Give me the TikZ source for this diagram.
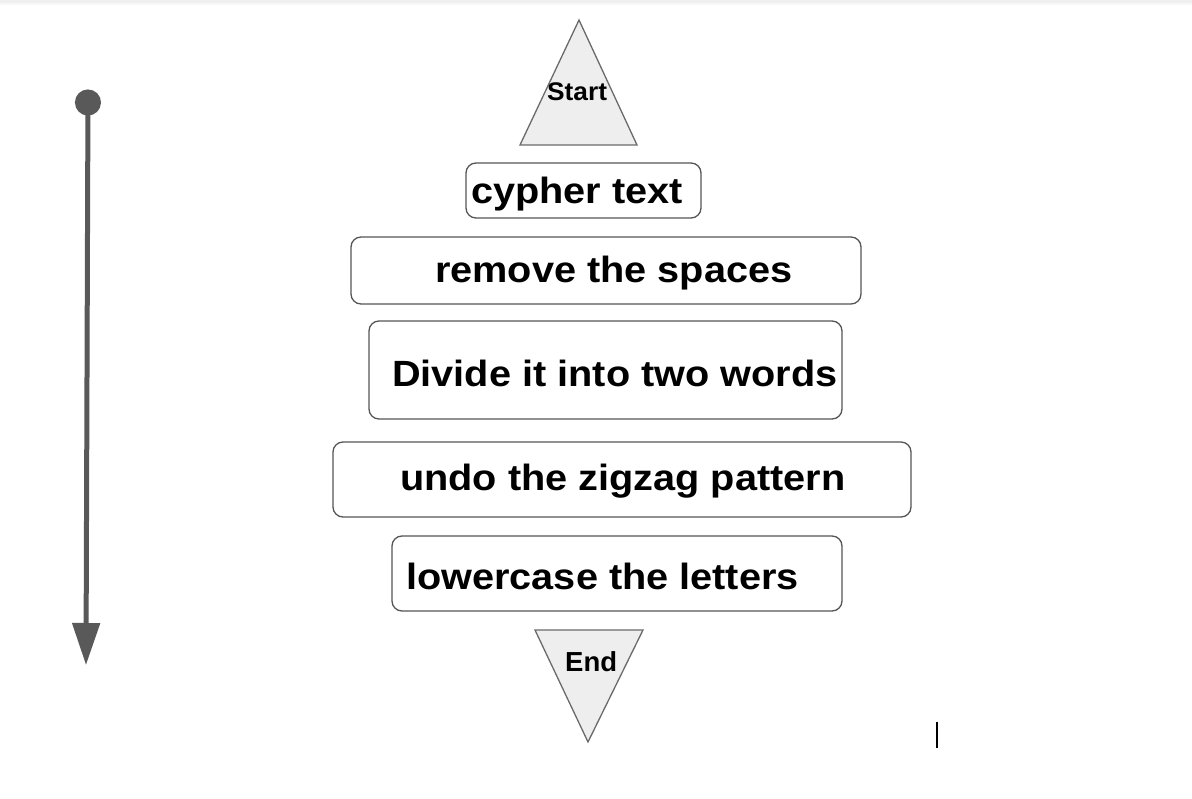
\documentclass[tikz,border=0pt]{standalone}
\usepackage{fontspec}
\setmainfont{Liberation Sans}
\usetikzlibrary{arrows.meta}
\definecolor{boxline}{HTML}{555555}
\definecolor{triline}{HTML}{6A6A6A}
\definecolor{trifill}{HTML}{EEEEEE}
\definecolor{flowgray}{HTML}{595959}
\begin{document}
\begin{tikzpicture}[x=1pt,y=-1pt,
  stepbox/.style={draw=boxline,line width=1.3pt,rounded corners=10pt,inner sep=0pt},
  steptext/.style={anchor=base west,inner sep=0pt,xscale=1.087,font=\fontsize{36.5}{44}\selectfont\bfseries},
  tri/.style={draw=triline,fill=trifill,line width=1.3pt,line join=miter},
  tritext/.style={anchor=base west,inner sep=0pt,font=\fontsize{25.5}{30}\selectfont\bfseries},
  flow/.style={draw=flowgray,line width=5pt,
    {Circle[length=26pt 0 0,width=26pt 0 0]}-{Triangle[length=42pt 0 0,width=27pt 0 0]}}]
\useasboundingbox (0,0) rectangle (1192,799);
\fill[white] (0,0) rectangle (1192,799);
% top shadow strip
\fill[gray!12] (0,0) rectangle (1192,3);
\fill[gray!6] (0,3) rectangle (1192,5);
% start triangle
\draw[tri] (579,20) -- (637,145) -- (520,145) -- cycle;
\node[tritext,xscale=1.03] (start) at (547,101) {Start};
% steps
\node[stepbox,minimum width=235pt,minimum height=55pt] (b1) at (583.5,190.5) {};
\node[steptext] (t1) at (471,204) {cypher text};
\node[stepbox,minimum width=510pt,minimum height=67pt] (b2) at (606,270.5) {};
\node[steptext] (t2) at (435,283) {remove the spaces};
\node[stepbox,minimum width=473pt,minimum height=98pt] (b3) at (605.5,370) {};
\node[steptext] (t3) at (392,387) {Divide it into two words};
\node[stepbox,minimum width=578pt,minimum height=75pt] (b4) at (622,479.5) {};
\node[steptext] (t4) at (400,490) {undo the zigzag pattern};
\node[stepbox,minimum width=450pt,minimum height=75pt] (b5) at (617,573.5) {};
\node[steptext] (t5) at (406,589) {lowercase the letters};
% end triangle
\draw[tri] (535,630) -- (643,630) -- (588,742) -- cycle;
\node[tritext,font=\fontsize{27.5}{32}\selectfont\bfseries] (end) at (565,671) {End};
% left flow arrow
\coordinate (ftop) at (88,89.5);
\coordinate (fbot) at (86,665);
\draw[flow] (ftop) -- (fbot);
% text cursor
\draw[black,line width=2pt] (937,722) -- (937,748);
\end{tikzpicture}
\end{document}
